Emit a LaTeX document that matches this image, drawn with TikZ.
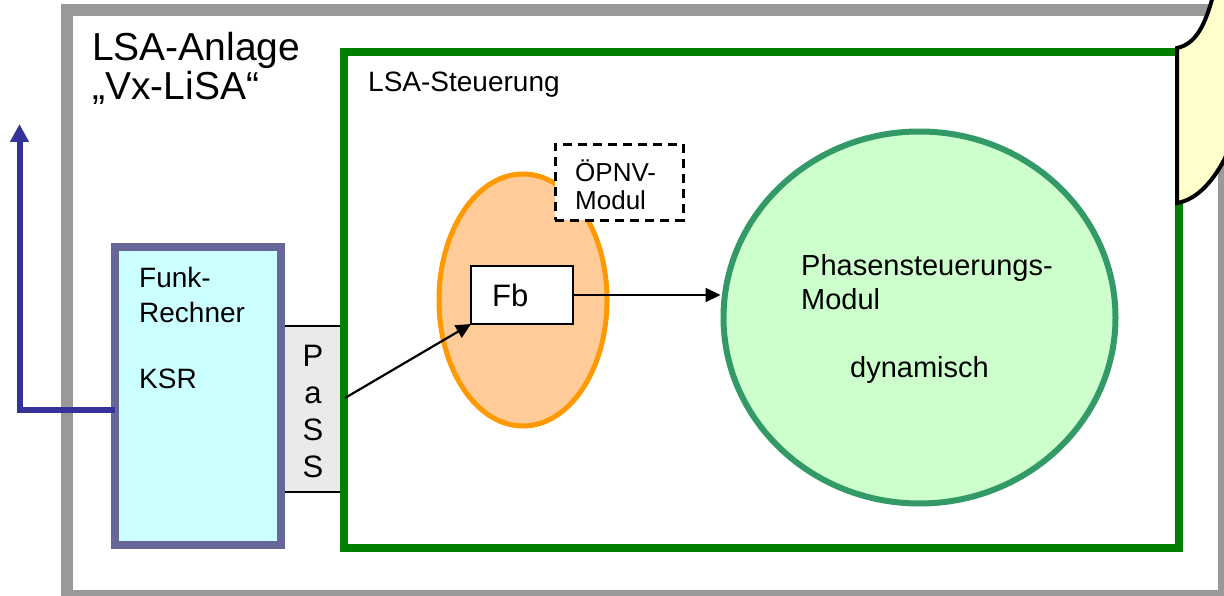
\documentclass[tikz,border=0pt]{standalone}
\usepackage{fontspec}
\setmainfont{Liberation Sans}
\usetikzlibrary{positioning}
\usetikzlibrary{shapes.geometric}
\usetikzlibrary{arrows.meta}
\definecolor{framegray}{RGB}{153,153,153}
\definecolor{ctrlgreen}{RGB}{0,128,0}
\definecolor{ksrline}{RGB}{102,102,153}
\definecolor{ksrfill}{RGB}{204,255,255}
\definecolor{passfill}{RGB}{234,234,234}
\definecolor{fbline}{RGB}{255,153,0}
\definecolor{fbfill}{RGB}{255,204,153}
\definecolor{phaseline}{RGB}{51,153,102}
\definecolor{phasefill}{RGB}{204,255,204}
\definecolor{noteyellow}{RGB}{255,255,204}
\definecolor{linkblue}{RGB}{51,51,153}

\begin{document}
\begin{tikzpicture}[x=1pt,y=-1pt,
		txt/.style={inner sep=0pt, anchor=base west, align=left},
		box/.style={rectangle, inner sep=0pt, outer sep=0pt},
		sig/.style={-{Triangle[length=15pt,width=14pt]}, line width=2.2pt}]
			\useasboundingbox (0,0) rectangle (1224,596);
			\draw[framegray, line width=12pt] (66.5,10.5) rectangle (1224,596);
			\node at (312.5,409) (pass) [box, fill=passfill, minimum width=63, minimum height=166] {};
			\draw[line width=2pt] (pass.north west) -- (pass.north east); \draw[line width=2pt] (pass.south west) -- (pass.south east);
			\node at (761.5,300) (lsa) [box, draw=ctrlgreen, line width=8pt, minimum width=835, minimum height=496] {};
			\node at (197.75,396) (ksr) [box, draw=ksrline, fill=ksrfill, line width=8pt, minimum width=165.5, minimum height=298] {};
			\node at (523,300) (fbzone) [ellipse, draw=fbline, fill=fbfill, line width=5pt, inner sep=0pt, minimum width=168, minimum height=252] {};
			\node at (619,182.5) (oepnv) [box, draw, dashed, dash pattern=on 9pt off 6pt, fill=white, line width=3pt, minimum width=128, minimum height=76] {};
			\node at (522,295) (fb) [box, draw, fill=white, line width=2.5pt, minimum width=102, minimum height=58] {};
			\node at (919.5,317.5) (phase) [ellipse, draw=phaseline, fill=phasefill, line width=6pt, inner sep=0pt, minimum width=392, minimum height=372] {};
			% Hinweisblase oben rechts, nur angeschnitten
			\draw[fill=noteyellow, line width=4pt] (1213,-4) .. controls (1205,25) and (1196,44) .. (1177,48) -- (1177,203) .. controls (1196,200) and (1214,182) .. (1228,152) -- (1240,152) -- (1240,-4) -- cycle;
			% Texte (Anker = Grundlinie der letzten Zeile)
			\node at (92,100) (anlage) [txt, font=\fontsize{39}{39}\selectfont] {LSA-Anlage\\„Vx-LiSA“};
			\node at (368,92) (steuer) [txt, font=\fontsize{28}{34}\selectfont] {LSA-Steuerung};
			\node at (139,322) (funk) [txt, font=\fontsize{28}{35}\selectfont] {Funk-\\Rechner};
			\node at (139,388) (ksrlabel) [txt, font=\fontsize{28}{35}\selectfont] {KSR};
			\node at (575,210) (oepnvlabel) [txt, font=\fontsize{26}{28}\selectfont] {ÖPNV-\\Modul};
			\node at (492,306) (fblabel) [txt, font=\fontsize{31}{31}\selectfont] {Fb};
			\node at (801,309) (phaselabel) [txt, font=\fontsize{29}{34}\selectfont] {Phasensteuerungs-\\Modul};
			\node at (850,377) (dyn) [txt, font=\fontsize{29}{34}\selectfont] {dynamisch};
			\node at (313,477) (passlabel) [inner sep=0pt, anchor=base, align=center, font=\fontsize{31}{36.7}\selectfont] {P\\a\\S\\S};
			% Verbindungen
			\coordinate (passout) at (345,398);
			\coordinate (ksrout) at (115,409.5);
			\coordinate (uplink) at (19.5,124);
			\draw[sig] (passout) -- (fb.south west);
			\draw[sig] (fb.east) -- (fb.east -| phase.west);
			\draw[linkblue, line width=6pt, -{Triangle[length=18pt,width=18pt]}] (ksrout) -| (uplink);
			\end{tikzpicture}
\end{document}
